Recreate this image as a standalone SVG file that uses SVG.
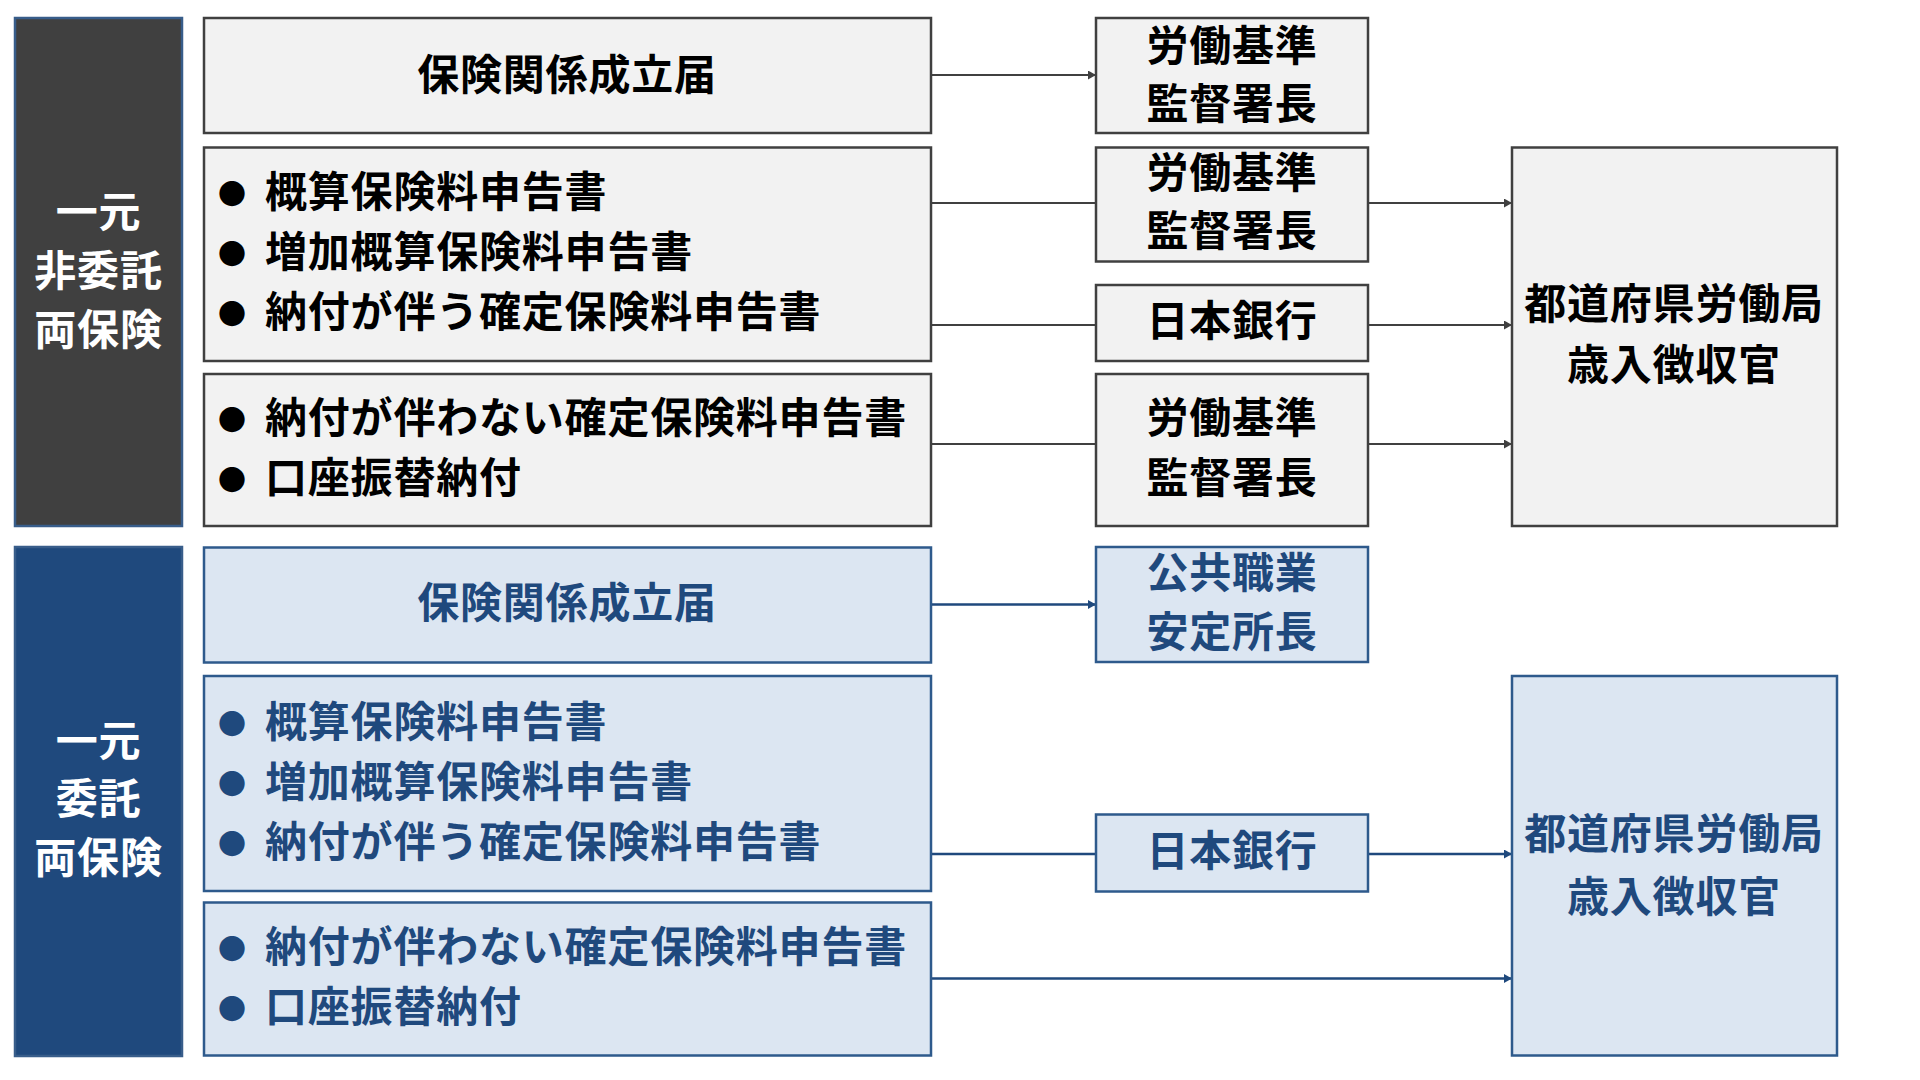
<svg xmlns="http://www.w3.org/2000/svg" width="1920" height="1080" viewBox="0 0 1920 1080">
<defs>
<style>
text{font-family:"Noto Sans CJK JP","Noto Sans CJK SC",sans-serif;font-weight:700;font-size:42px;letter-spacing:0.8px;}
.c{text-anchor:middle;}
.k{fill:#000000;}
.w{fill:#FFFFFF;}
.b{fill:#1F497D;}
.bul{font-size:28px;text-anchor:middle;letter-spacing:0;}
.gbox{fill:#F2F2F2;stroke:#404040;stroke-width:2.5;}
.lbox{fill:#DCE6F2;stroke:#2E5A8C;stroke-width:2.5;}
.dbox{fill:#404040;stroke:#385D8A;stroke-width:2.5;}
.nbox{fill:#1F497D;stroke:#385D8A;stroke-width:2.5;}
.gl{stroke:#404040;stroke-width:2;fill:none;}
.bl{stroke:#1F497D;stroke-width:2.5;fill:none;}
</style>
<marker id="ag" markerUnits="userSpaceOnUse" markerWidth="8" markerHeight="9" refX="8" refY="4.5" orient="auto"><path d="M0,0 L8,4.5 L0,9 Z" fill="#404040"/></marker>
<marker id="ab" markerUnits="userSpaceOnUse" markerWidth="8" markerHeight="9" refX="8" refY="4.5" orient="auto"><path d="M0,0 L8,4.5 L0,9 Z" fill="#1F497D"/></marker>
</defs>
<rect width="1920" height="1080" fill="#FFFFFF"/>

<g id="connectors">
<line class="gl" x1="931" y1="75" x2="1096" y2="75" marker-end="url(#ag)"/>
<line class="gl" x1="931" y1="203" x2="1096" y2="203"/>
<line class="gl" x1="931" y1="325" x2="1096" y2="325"/>
<line class="gl" x1="931" y1="444" x2="1096" y2="444"/>
<line class="gl" x1="1368" y1="203" x2="1512" y2="203" marker-end="url(#ag)"/>
<line class="gl" x1="1368" y1="325" x2="1512" y2="325" marker-end="url(#ag)"/>
<line class="gl" x1="1368" y1="444" x2="1512" y2="444" marker-end="url(#ag)"/>
<line class="bl" x1="931" y1="604.5" x2="1096" y2="604.5" marker-end="url(#ab)"/>
<line class="bl" x1="931" y1="854" x2="1096" y2="854"/>
<line class="bl" x1="1368" y1="854" x2="1512" y2="854" marker-end="url(#ab)"/>
<line class="bl" x1="931" y1="978.5" x2="1512" y2="978.5" marker-end="url(#ab)"/>
</g>

<g id="label-hi-itaku">
<rect class="dbox" x="15" y="18" width="167" height="508"/>
<text class="c w" x="98.5" y="227">一元</text>
<text class="c w" x="98.5" y="286">非委託</text>
<text class="c w" x="98.5" y="345">両保険</text>
</g>
<g id="label-itaku">
<rect class="nbox" x="15" y="547" width="167" height="509"/>
<text class="c w" x="98.5" y="756">一元</text>
<text class="c w" x="98.5" y="814">委託</text>
<text class="c w" x="98.5" y="873">両保険</text>
</g>

<g id="g-seiritsu">
<rect class="gbox" x="204" y="18" width="727" height="115"/>
<text class="c k" x="567" y="90">保険関係成立届</text>
</g>
<g id="g-gaisan">
<rect class="gbox" x="204" y="147.5" width="727" height="213.5"/>
<text class="bul k" x="232" y="205">●</text>
<text class="k" x="265" y="207">概算保険料申告書</text>
<text class="bul k" x="232" y="265">●</text>
<text class="k" x="265" y="267">増加概算保険料申告書</text>
<text class="bul k" x="232" y="325">●</text>
<text class="k" x="265" y="327">納付が伴う確定保険料申告書</text>
</g>
<g id="g-kakutei">
<rect class="gbox" x="204" y="374" width="727" height="152"/>
<text class="bul k" x="232" y="431">●</text>
<text class="k" x="265" y="433">納付が伴わない確定保険料申告書</text>
<text class="bul k" x="232" y="491">●</text>
<text class="k" x="265" y="493">口座振替納付</text>
</g>

<g id="b-seiritsu">
<rect class="lbox" x="204" y="547.5" width="727" height="115"/>
<text class="c b" x="567" y="618">保険関係成立届</text>
</g>
<g id="b-gaisan">
<rect class="lbox" x="204" y="676" width="727" height="215"/>
<text class="bul b" x="232" y="735">●</text>
<text class="b" x="265" y="737">概算保険料申告書</text>
<text class="bul b" x="232" y="795">●</text>
<text class="b" x="265" y="797">増加概算保険料申告書</text>
<text class="bul b" x="232" y="855">●</text>
<text class="b" x="265" y="857">納付が伴う確定保険料申告書</text>
</g>
<g id="b-kakutei">
<rect class="lbox" x="204" y="902.5" width="727" height="153"/>
<text class="bul b" x="232" y="960">●</text>
<text class="b" x="265" y="962">納付が伴わない確定保険料申告書</text>
<text class="bul b" x="232" y="1020">●</text>
<text class="b" x="265" y="1022">口座振替納付</text>
</g>

<g id="m-roki1">
<rect class="gbox" x="1096" y="18" width="272" height="115"/>
<text class="c k" x="1232" y="61">労働基準</text>
<text class="c k" x="1232" y="119">監督署長</text>
</g>
<g id="m-roki2">
<rect class="gbox" x="1096" y="147.5" width="272" height="114"/>
<text class="c k" x="1232" y="188">労働基準</text>
<text class="c k" x="1232" y="246">監督署長</text>
</g>
<g id="m-nichigin1">
<rect class="gbox" x="1096" y="285" width="272" height="76"/>
<text class="c k" x="1232" y="336">日本銀行</text>
</g>
<g id="m-roki3">
<rect class="gbox" x="1096" y="374" width="272" height="152"/>
<text class="c k" x="1232" y="433">労働基準</text>
<text class="c k" x="1232" y="493">監督署長</text>
</g>
<g id="m-shokuan">
<rect class="lbox" x="1096" y="547" width="272" height="115"/>
<text class="c b" x="1232" y="588">公共職業</text>
<text class="c b" x="1232" y="647">安定所長</text>
</g>
<g id="m-nichigin2">
<rect class="lbox" x="1096" y="814.5" width="272" height="77"/>
<text class="c b" x="1232" y="866">日本銀行</text>
</g>

<g id="r-kyoku1">
<rect class="gbox" x="1512" y="147.5" width="325" height="378.5"/>
<text class="c k" x="1674" y="319">都道府県労働局</text>
<text class="c k" x="1674" y="380">歳入徴収官</text>
</g>
<g id="r-kyoku2">
<rect class="lbox" x="1512" y="676" width="325" height="379.5"/>
<text class="c b" x="1674" y="849">都道府県労働局</text>
<text class="c b" x="1674" y="912">歳入徴収官</text>
</g>
</svg>
